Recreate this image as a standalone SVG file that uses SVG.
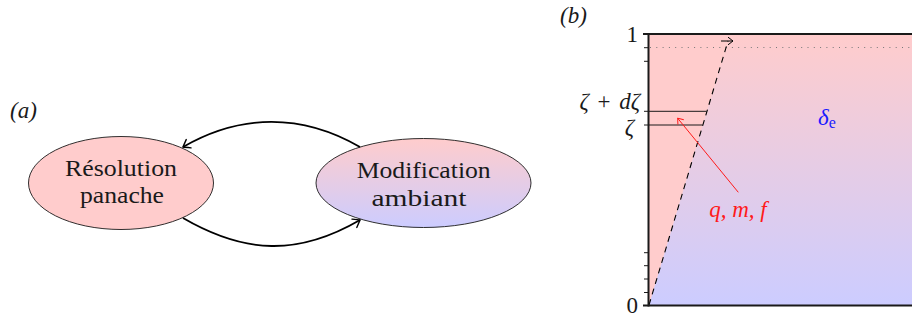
<svg xmlns="http://www.w3.org/2000/svg" width="912" height="320" viewBox="0 0 912 320">
<defs>
<linearGradient id="gPB" x1="0" y1="0" x2="0" y2="1">
<stop offset="0" stop-color="#ffcccc"/>
<stop offset="1" stop-color="#ccccff"/>
</linearGradient>
<marker id="tipK" markerWidth="14" markerHeight="14" refX="0" refY="0" viewBox="-8 -7 10 14" orient="auto" markerUnits="userSpaceOnUse">
<path d="M -6.5 -4.8 Q -1.5 -1.2 0 0 Q -1.5 1.2 -6.5 4.8" fill="none" stroke="#000" stroke-width="1.4" stroke-linecap="round"/>
</marker>
<marker id="tipR" markerWidth="12" markerHeight="12" refX="0" refY="0" viewBox="-7 -6 9 12" orient="auto" markerUnits="userSpaceOnUse">
<path d="M -5 -3.8 Q -1.2 -1 0 0 Q -1.2 1 -5 3.8" fill="none" stroke="#ff1a1a" stroke-width="1"/>
</marker>
<marker id="tipS" markerWidth="12" markerHeight="12" refX="0" refY="0" viewBox="-7 -6 9 12" orient="auto" markerUnits="userSpaceOnUse">
<path d="M -5 -3.8 Q -1.2 -1 0 0 Q -1.2 1 -5 3.8" fill="none" stroke="#000" stroke-width="1"/>
</marker>
</defs>
<style>
.rm{font-family:'Liberation Serif',serif;font-size:23px;fill:#1a1a1a}
.it{font-family:'Liberation Serif',serif;font-style:italic;font-size:23px}
.node{stroke:#1a1a1a;stroke-width:0.9}
.conn{fill:none;stroke:#000;stroke-width:1.8;marker-end:url(#tipK)}
.tick{stroke:#1a1a1a;stroke-width:1}
</style>

<text class="it" x="10" y="118" fill="#1a1a1a">(a)</text>

<g id="node-resolution">
<ellipse class="node" cx="121" cy="183" rx="92.5" ry="46.5" fill="#ffcccc"/>
<text class="rm" x="121" y="176" text-anchor="middle" textLength="112" lengthAdjust="spacingAndGlyphs">Résolution</text>
<text class="rm" x="122" y="203" text-anchor="middle" textLength="84" lengthAdjust="spacingAndGlyphs">panache</text>
</g>

<g id="node-modification">
<ellipse class="node" cx="423.5" cy="183" rx="107.5" ry="44.5" fill="url(#gPB)"/>
<text class="rm" x="423.7" y="178" text-anchor="middle" textLength="134" lengthAdjust="spacingAndGlyphs">Modification</text>
<text class="rm" x="419" y="206" text-anchor="middle" textLength="95" lengthAdjust="spacingAndGlyphs">ambiant</text>
</g>

<g id="connectors">
<path class="conn" d="M 360 147 C 302 113.5 241 113.5 183 147"/>
<path class="conn" d="M 183 218 C 245 254 298 256 360 220"/>
</g>

<text class="it" x="560" y="23" fill="#1a1a1a">(b)</text>
<g id="panel-b">
<rect x="649" y="34" width="270" height="271" fill="url(#gPB)"/>
<polygon points="649,305 730,34 649,34" fill="#ffcccc"/>
<line x1="650" y1="47.5" x2="912" y2="47.5" stroke="#777" stroke-width="1" stroke-dasharray="1 5.3"/>
<line x1="649" y1="305" x2="728" y2="41" stroke="#000" stroke-width="1.1" stroke-dasharray="6 5"/>
<line x1="721" y1="41" x2="733" y2="41" stroke="#000" stroke-width="1" marker-end="url(#tipS)"/>
<line x1="644" y1="111.3" x2="706.7" y2="111.3" class="tick"/>
<line x1="644" y1="125" x2="702.7" y2="125" class="tick"/>
<g class="tick">
<line x1="644" y1="47.7" x2="649" y2="47.7"/>
<line x1="644" y1="61.3" x2="649" y2="61.3"/>
<line x1="644" y1="252.7" x2="649" y2="252.7"/>
<line x1="644" y1="265.7" x2="649" y2="265.7"/>
<line x1="644" y1="279" x2="649" y2="279"/>
<line x1="644" y1="292.5" x2="649" y2="292.5"/>
</g>
<line x1="643" y1="34" x2="912" y2="34" stroke="#1a1a1a" stroke-width="2"/>
<line x1="643" y1="305.5" x2="912" y2="305.5" stroke="#1a1a1a" stroke-width="2"/>
<line x1="648.5" y1="33" x2="648.5" y2="306.5" stroke="#1a1a1a" stroke-width="2"/>
<path d="M 738.3 192.3 L 677.7 118.3" fill="none" stroke="#ff1a1a" stroke-width="1" marker-end="url(#tipR)"/>
<text class="rm" x="638" y="42" text-anchor="end">1</text>
<text class="rm" x="638" y="313" text-anchor="end">0</text>
<text class="it" x="640" y="109" text-anchor="end" fill="#1a1a1a" font-size="25">ζ <tspan dx="3" font-style="normal">+</tspan><tspan dx="3"> dζ</tspan></text>
<text class="it" x="634" y="135" text-anchor="end" fill="#1a1a1a" font-size="25">ζ</text>
<text class="it" x="818" y="125" fill="#1a1aff" font-size="24">δ<tspan font-style="normal" font-size="16" dy="3">e</tspan></text>
<text class="it" x="738" y="217" text-anchor="middle" fill="#ff1a1a" font-size="25">q, m, f</text>
</g>
</svg>
